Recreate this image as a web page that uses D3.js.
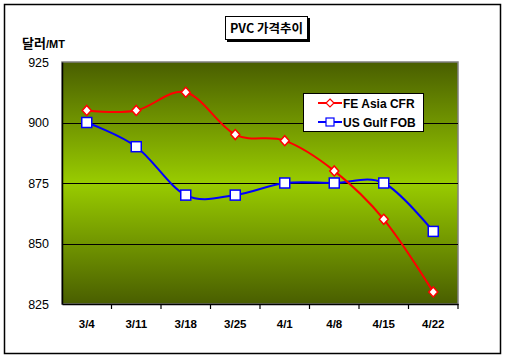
<!DOCTYPE html>
<html><head><meta charset="utf-8">
<script src="https://cdn.jsdelivr.net/npm/d3@7"></script>
<style>body{margin:0;background:#fff}svg{display:block}</style>
</head><body>
<script>
const categories = ["3/4","3/11","3/18","3/25","4/1","4/8","4/15","4/22"];
const feAsia = [905,905,912.5,895,892.5,880,860,830];
const usGulf = [900,890,870,870,875,875,875,855];
const yTicks = [825,850,875,900,925];
const seriesNames = ["FE Asia CFR","US Gulf FOB"];

const W=506,H=358;
const svg=d3.select("body").append("svg").attr("width",W).attr("height",H);
const m={l:62,t:62,r:458,b:304};
const x=d3.scaleBand().domain(categories).range([m.l,m.r]);
const y=d3.scaleLinear().domain([825,925]).range([m.b,m.t]);

// outer frame
svg.append("rect").attr("x",4.5).attr("y",4.5).attr("width",496).attr("height",349)
  .attr("fill","#fff").attr("stroke","#000").attr("stroke-width",1.5);

// gradient
const defs=svg.append("defs");
const g=defs.append("linearGradient").attr("id","bg").attr("x1",0).attr("y1",0).attr("x2",0).attr("y2",1);
g.append("stop").attr("offset","0%").attr("stop-color","#495e00");
g.append("stop").attr("offset","50%").attr("stop-color","#99cc00");
g.append("stop").attr("offset","100%").attr("stop-color","#495e00");
svg.append("rect").attr("x",m.l).attr("y",m.t).attr("width",m.r-m.l).attr("height",m.b-m.t)
  .attr("fill","url(#bg)").attr("stroke","#808080").attr("stroke-width",1.5);

// grid lines
svg.append("g").selectAll("line").data(yTicks.filter(d=>d>825&&d<925)).join("line")
  .attr("x1",m.l).attr("x2",m.r).attr("y1",d=>Math.round(y(d))+0.5).attr("y2",d=>Math.round(y(d))+0.5)
  .attr("stroke","#000").attr("stroke-width",1.2);

// y axis
const ya=svg.append("g").attr("transform",`translate(${m.l},0)`)
  .call(d3.axisLeft(y).tickValues(yTicks).tickSize(0).tickPadding(13).tickFormat(d3.format("d")));
ya.select(".domain").attr("stroke","#000").attr("stroke-width",1.5);
ya.selectAll("text").attr("font-family","Arial, 'Liberation Sans', sans-serif").attr("font-size",12.5).attr("fill","#000");

// x axis
const xa=svg.append("g").attr("transform",`translate(0,${m.b})`)
  .call(d3.axisBottom(x).tickSize(0).tickPadding(16));
xa.select(".domain").attr("stroke","#000").attr("stroke-width",1.5);
xa.selectAll("text").attr("font-family","Arial, 'Liberation Sans', sans-serif").attr("font-size",11.5)
  .attr("font-weight","bold").attr("fill","#000");
// boundary ticks
svg.append("g").selectAll("line").data(d3.range(1,categories.length+1)).join("line")
  .attr("x1",i=>m.l+i*x.step()).attr("x2",i=>m.l+i*x.step())
  .attr("y1",m.b).attr("y2",m.b+5).attr("stroke","#000").attr("stroke-width",1.2);

const cx=d=>x(d)+x.bandwidth()/2;
const line=d3.line().curve(d3.curveCardinal.tension(0)).x(d=>cx(d.c)).y(d=>y(d.v));
const mk=arr=>categories.map((c,i)=>({c,v:arr[i]}));

// series
svg.append("path").datum(mk(usGulf)).attr("d",line).attr("fill","none").attr("stroke","#0000ff").attr("stroke-width",2);
svg.append("path").datum(mk(feAsia)).attr("d",line).attr("fill","none").attr("stroke","#ff0000").attr("stroke-width",2);

svg.append("g").selectAll("rect").data(mk(usGulf)).join("rect")
  .attr("x",d=>cx(d.c)-5).attr("y",d=>y(d.v)-5).attr("width",10).attr("height",10)
  .attr("fill","#fff").attr("stroke","#0000ff").attr("stroke-width",1.5);
const diamond=d3.symbol().type(d3.symbolDiamond).size(55);
svg.append("g").selectAll("path").data(mk(feAsia)).join("path")
  .attr("d",()=>"M0,-5L4.5,0L0,5L-4.5,0Z").attr("transform",d=>`translate(${cx(d.c)},${y(d.v)})`)
  .attr("fill","#fff").attr("stroke","#ff0000").attr("stroke-width",1.5);

// legend
const lg=svg.append("g");
lg.append("rect").attr("x",303.5).attr("y",93.5).attr("width",120).attr("height",38)
  .attr("fill","#fff").attr("stroke","#000").attr("stroke-width",1);
const items=[{n:seriesNames[0],c:"#ff0000",t:"d"},{n:seriesNames[1],c:"#0000ff",t:"s"}];
items.forEach((it,i)=>{
  const yy=103+i*19;
  lg.append("line").attr("x1",318).attr("x2",342).attr("y1",yy).attr("y2",yy).attr("stroke",it.c).attr("stroke-width",2);
  if(it.t==="d") lg.append("path").attr("d","M0,-4L4,0L0,4L-4,0Z").attr("transform",`translate(330,${yy})`)
    .attr("fill","#fff").attr("stroke",it.c).attr("stroke-width",1.2);
  else lg.append("rect").attr("x",326).attr("y",yy-4).attr("width",8).attr("height",8)
    .attr("fill","#fff").attr("stroke",it.c).attr("stroke-width",1.2);
  lg.append("text").attr("x",343).attr("y",yy+4.5).text(it.n)
    .attr("font-family","Arial, 'Liberation Sans', sans-serif").attr("font-size",12).attr("font-weight","bold");
});

// title
svg.append("rect").attr("x",227).attr("y",18).attr("width",83).attr("height",24).attr("fill","#000");
svg.append("rect").attr("x",225.5).attr("y",16.5).attr("width",82).attr("height",23)
  .attr("fill","#fff").attr("stroke","#000").attr("stroke-width",1);
svg.append("text").attr("x",266.5).attr("y",33).attr("text-anchor","middle")
  .attr("font-family","'Noto Sans CJK KR', sans-serif").attr("font-size",12.5).attr("font-weight","bold")
  .text("PVC 가격추이");

// y unit label
const ul=svg.append("text").attr("x",22).attr("y",48).attr("font-weight","bold");
ul.append("tspan").attr("font-family","'Noto Sans CJK KR', sans-serif").attr("font-size",13).text("달러");
ul.append("tspan").attr("font-family","Arial, 'Liberation Sans', sans-serif").attr("font-size",11).text("/MT");
</script>
</body></html>
